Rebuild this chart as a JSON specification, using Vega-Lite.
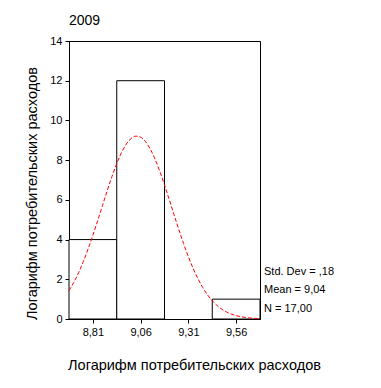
{
  "$schema": "https://vega.github.io/schema/vega-lite/v6.json",
  "autosize": "none",
  "width": 191,
  "height": 278,
  "padding": {"left": 69, "top": 41, "right": 121, "bottom": 69},
  "background": "white",
  "config": {
    "font": "Liberation Sans",
    "view": {"stroke": "black", "strokeWidth": 1},
    "axis": {"labelFont": "Liberation Sans", "titleFont": "Liberation Sans", "labelColor": "black", "titleColor": "black", "domainColor": "black", "tickColor": "black", "grid": false, "labelFontSize": 11, "titleFontSize": 14.5, "titleFontWeight": "normal", "tickSize": 4, "labelOverlap": false}
  },
  "title": {"text": "2009", "anchor": "start", "frame": "group", "fontSize": 14, "fontWeight": "normal", "font": "Liberation Sans", "color": "black", "offset": 7},
  "datasets": {
    "bins": [
      {"x": 8.685, "x_end": 8.935, "y": 4},
      {"x": 8.935, "x_end": 9.185, "y": 12},
      {"x": 9.435, "x_end": 9.685, "y": 1}
    ],
    "curve": [
      {"x": 8.685, "y": 1.432}, {"x": 8.71, "y": 1.844}, {"x": 8.735, "y": 2.331}, {"x": 8.76, "y": 2.894},
      {"x": 8.785, "y": 3.526}, {"x": 8.81, "y": 4.216}, {"x": 8.835, "y": 4.951}, {"x": 8.86, "y": 5.707},
      {"x": 8.885, "y": 6.459}, {"x": 8.91, "y": 7.176}, {"x": 8.935, "y": 7.826}, {"x": 8.96, "y": 8.379},
      {"x": 8.985, "y": 8.807}, {"x": 9.01, "y": 9.088}, {"x": 9.035, "y": 9.207}, {"x": 9.06, "y": 9.156},
      {"x": 9.085, "y": 8.939}, {"x": 9.11, "y": 8.567}, {"x": 9.135, "y": 8.061}, {"x": 9.16, "y": 7.446},
      {"x": 9.185, "y": 6.752}, {"x": 9.21, "y": 6.01}, {"x": 9.235, "y": 5.253}, {"x": 9.26, "y": 4.507},
      {"x": 9.285, "y": 3.796}, {"x": 9.31, "y": 3.139}, {"x": 9.335, "y": 2.548}, {"x": 9.36, "y": 2.03},
      {"x": 9.385, "y": 1.588}, {"x": 9.41, "y": 1.219}, {"x": 9.435, "y": 0.919}, {"x": 9.46, "y": 0.68},
      {"x": 9.485, "y": 0.494}, {"x": 9.51, "y": 0.353}, {"x": 9.535, "y": 0.247}, {"x": 9.56, "y": 0.17},
      {"x": 9.585, "y": 0.115}, {"x": 9.61, "y": 0.076}, {"x": 9.635, "y": 0.049}, {"x": 9.66, "y": 0.032},
      {"x": 9.685, "y": 0.02}
    ],
    "stats": [
      {"label": "Std. Dev = ,18", "x": 9.685, "y": 2.38},
      {"label": "Mean = 9,04", "x": 9.685, "y": 1.44},
      {"label": "N = 17,00", "x": 9.685, "y": 0.52}
    ]
  },
  "encoding": {
    "x": {"field": "x", "type": "quantitative", "scale": {"domain": [8.685, 9.685], "nice": false, "zero": false},
      "axis": {"values": [8.81, 9.06, 9.31, 9.56], "format": ".2f", "labelExpr": "replace(datum.label, '.', ',')", "title": "Логарифм потребительских расходов", "titleX": 125, "titleY": 46, "titleBaseline": "middle", "titleAlign": "center", "labelPadding": 3}},
    "y": {"field": "y", "type": "quantitative", "scale": {"domain": [0, 14], "nice": false},
      "axis": {"values": [0, 2, 4, 6, 8, 10, 12, 14], "labelOverlap": false, "title": "Логарифм потребительских расходов", "titleX": -37, "titleY": 152, "titleAngle": -90, "titleBaseline": "middle", "titleAlign": "center", "labelPadding": 3}}
  },
  "layer": [
    {
      "data": {"name": "bins"},
      "mark": {"type": "rect", "fill": "white", "stroke": "black", "strokeWidth": 1},
      "encoding": {
        "x2": {"field": "x_end"},
        "y2": {"datum": 0}
      }
    },
    {
      "data": {"name": "curve"},
      "mark": {"type": "line", "stroke": "#ff0000", "strokeWidth": 1, "strokeDash": [4, 2], "interpolate": "monotone"},
      "encoding": {}
    },
    {
      "data": {"name": "stats"},
      "mark": {"type": "text", "align": "left", "baseline": "middle", "dx": 4, "fontSize": 11, "font": "Liberation Sans", "color": "black"},
      "encoding": {
        "text": {"field": "label"}
      }
    }
  ]
}
